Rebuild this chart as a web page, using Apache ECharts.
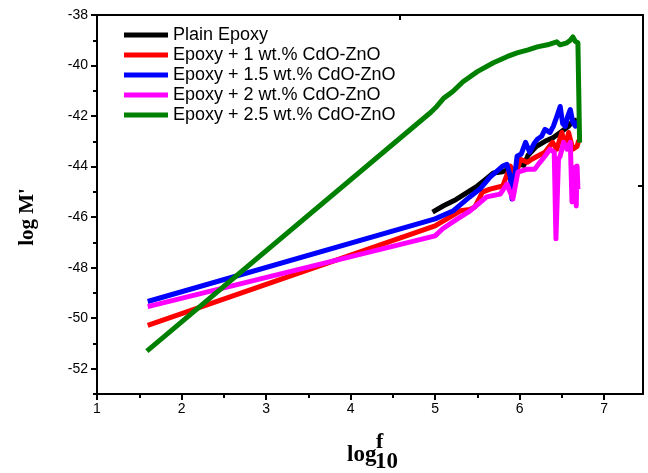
<!DOCTYPE html>
<html>
<head>
<meta charset="utf-8">
<script src="https://cdn.jsdelivr.net/npm/echarts@6/dist/echarts.min.js"></script>
<style>html,body{margin:0;padding:0;background:#fff;}#c{width:648px;height:473px;}</style>
</head>
<body>
<div id="c"></div>
<script>
const seriesNames = ['Plain Epoxy','Epoxy + 1 wt.% CdO-ZnO','Epoxy + 1.5 wt.% CdO-ZnO','Epoxy + 2 wt.% CdO-ZnO','Epoxy + 2.5 wt.% CdO-ZnO'];
const seriesColors = ['#000000','#ff0000','#0000ff','#ff00ff','#008000'];

const xTickValues = [1,2,3,4,5,6,7];
const xMinorValues = [1.5,2.5,3.5,4.5,5.5,6.5];
const yTickValues = [-52,-50,-48,-46,-44,-42,-40,-38];
const yMinorValues = [-53,-51,-49,-47,-45,-43,-41,-39];

const plainX = [4.97,5.1,5.25,5.4,5.5,5.6,5.69,5.8,5.9,5.95,6.0,6.05,6.1,6.2,6.3,6.4,6.5,6.58,6.63,6.68];
const plainY = [-45.80,-45.55,-45.3,-44.98,-44.77,-44.5,-44.25,-44.2,-44.08,-44.15,-43.9,-43.95,-43.55,-43.2,-43.0,-42.85,-42.6,-42.4,-42.2,-42.15];

const oneX = [1.6,5.0,5.18,5.3,5.41,5.47,5.56,5.65,5.80,5.89,5.95,6.01,6.09,6.15,6.21,6.30,6.39,6.44,6.50,6.54,6.58,6.63,6.68,6.70];
const oneY = [-50.28,-46.35,-45.99,-45.75,-45.7,-45.60,-45.01,-44.89,-44.77,-43.98,-44.38,-43.71,-43.83,-43.7,-43.59,-43.43,-43.04,-43.31,-42.65,-43.20,-42.65,-43.31,-43.20,-42.95];

const onePointFiveX = [1.6,5.0,5.21,5.41,5.53,5.65,5.80,5.85,5.89,5.91,5.97,6.02,6.07,6.12,6.17,6.21,6.26,6.30,6.36,6.40,6.44,6.48,6.51,6.54,6.57,6.60,6.63,6.66,6.69];
const onePointFiveY = [-49.34,-46.07,-45.76,-45.2,-44.89,-44.42,-43.98,-43.91,-44.38,-45.28,-43.59,-43.5,-43.04,-43.43,-43.1,-42.92,-42.8,-42.53,-42.65,-42.4,-42.02,-41.62,-42.3,-42.41,-42.0,-41.74,-42.25,-42.4,-42.2];

const twoX = [1.6,5.0,5.09,5.25,5.41,5.52,5.61,5.77,5.85,5.92,5.98,6.09,6.18,6.24,6.30,6.36,6.41,6.43,6.46,6.48,6.52,6.56,6.60,6.62,6.64,6.66,6.67,6.68,6.69];
const twoY = [-49.54,-46.74,-46.46,-46.1,-45.76,-45.45,-45.2,-45.09,-44.69,-45.28,-44.22,-44.10,-44.10,-43.83,-43.59,-43.31,-43.43,-46.86,-43.7,-43.59,-43.04,-43.31,-43.04,-45.40,-44.1,-44.02,-45.56,-43.98,-44.89];

const twoPointFiveX = [1.59,4.95,5.02,5.1,5.21,5.33,5.5,5.69,5.85,5.97,6.1,6.21,6.33,6.44,6.48,6.56,6.6,6.63,6.66,6.69,6.71];
const twoPointFiveY = [-51.3,-41.85,-41.62,-41.3,-41.03,-40.64,-40.24,-39.89,-39.65,-39.5,-39.38,-39.26,-39.18,-39.06,-39.18,-39.1,-39.0,-38.87,-39.05,-39.1,-43.05];

const xs = [plainX, oneX, onePointFiveX, twoX, twoPointFiveX];
const ys = [plainY, oneY, onePointFiveY, twoY, twoPointFiveY];

const chart = echarts.init(document.getElementById('c'), null, {renderer:'canvas'});
const fontSans = 'Liberation Sans, Arial, sans-serif';
const fontSerif = 'Liberation Serif, Times New Roman, serif';

const series = seriesNames.map((n,i)=>({
  name:n, type:'line', xAxisIndex:0, yAxisIndex:0,
  data: xs[i].map((x,j)=>[x, ys[i][j]]),
  showSymbol:false, symbol:'none', smooth:false,
  lineStyle:{color:seriesColors[i], width:5, join:'round'},
  itemStyle:{color:seriesColors[i]},
  z: 2+i
}));

const axisLineStyle = {show:true, lineStyle:{color:'#000', width:2}};
const XMIN = 1, XMAX = 7.46;

chart.setOption({
  animation:false,
  backgroundColor:'#fff',
  grid:{left:97, right:5, top:15, bottom:79, containLabel:false},
  legend:{
    orient:'vertical', left:124, top:26, itemGap:2, padding:0,
    icon:'rect', itemWidth:44, itemHeight:5,
    textStyle:{fontFamily:fontSans, fontSize:18, color:'#000', lineHeight:18},
    data: seriesNames
  },
  xAxis:[
    {type:'value', position:'bottom', min:XMIN, max:XMAX,
     axisLine:axisLineStyle,
     axisTick:{show:true, inside:false, length:6, lineStyle:{color:'#000', width:2}, customValues:xTickValues},
     axisLabel:{show:true, margin:8, color:'#000', fontFamily:fontSans, fontSize:14, customValues:xTickValues},
     splitLine:{show:false}},
    {type:'value', position:'bottom', min:XMIN, max:XMAX,
     axisLine:{show:false},
     axisTick:{show:true, inside:false, length:4, lineStyle:{color:'#000', width:2}, customValues:xMinorValues},
     axisLabel:{show:false}, splitLine:{show:false}},
    {type:'value', position:'top', min:XMIN, max:XMAX,
     axisLine:axisLineStyle,
     axisTick:{show:true, inside:true, length:5, lineStyle:{color:'#000', width:2}, customValues:[4.58]},
     axisLabel:{show:false}, splitLine:{show:false}}
  ],
  yAxis:[
    {type:'value', position:'left', min:-53, max:-38,
     axisLine:axisLineStyle,
     axisTick:{show:true, inside:false, length:6, lineStyle:{color:'#000', width:2}, customValues:yTickValues},
     axisLabel:{show:true, margin:9, color:'#000', fontFamily:fontSans, fontSize:14, customValues:yTickValues},
     splitLine:{show:false}},
    {type:'value', position:'left', min:-53, max:-38,
     axisLine:{show:false},
     axisTick:{show:true, inside:false, length:4, lineStyle:{color:'#000', width:2}, customValues:yMinorValues},
     axisLabel:{show:false}, splitLine:{show:false}},
    {type:'value', position:'right', min:-53, max:-38,
     axisLine:axisLineStyle,
     axisTick:{show:true, inside:true, length:5, lineStyle:{color:'#000', width:2}, customValues:[-44.77]},
     axisLabel:{show:false}, splitLine:{show:false}}
  ],
  graphic:[
    {type:'text', x:28, y:217, rotation:Math.PI/2,
     style:{text:"log M'", font:'bold 21px '+fontSerif, fill:'#000', align:'center', verticalAlign:'middle'}},
    {type:'text', x:347, y:455,
     style:{text:'log', font:'bold 23px '+fontSerif, fill:'#000', align:'left', verticalAlign:'middle'}},
    {type:'text', x:376, y:442,
     style:{text:'f', font:'bold 22px '+fontSerif, fill:'#000', align:'left', verticalAlign:'middle'}},
    {type:'text', x:375, y:462,
     style:{text:'10', font:'bold 23px '+fontSerif, fill:'#000', align:'left', verticalAlign:'middle'}}
  ],
  series: series
});
</script>
</body>
</html>
